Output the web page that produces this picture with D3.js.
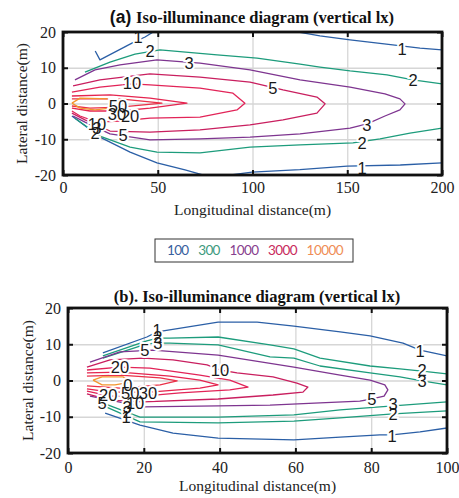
<!DOCTYPE html>
<html>
<head>
<meta charset="utf-8">
<script src="https://cdn.jsdelivr.net/npm/d3@7"></script>
<style>
body { margin: 0; background: #fff; }
</style>
</head>
<body>
<svg id="chart" width="459" height="498"></svg>
<script>
// ---- panel (a): iso-lux lines, longitudinal 0..200 m ----
const levelsA = [1, 2, 3, 5, 10, 20, 30, 50];
const contoursA = [
	{ level: 1, points: [[17, 14.7], [19.5, 12.2], [36.4, 16.9], [43.3, 18.6], [48.5, 20.3], [80, 23], [120.8, 20.3], [135.6, 18.9], [151.5, 17.8], [174, 16.4], [188.4, 15.5], [200, 15.0]] },
	{ level: 1, points: [[4.7, -3.5], [19.5, -9.4], [35.4, -13.6], [49.6, -16.6], [64.4, -18.6], [76, -20.3], [80, -20.6], [84, -20.3], [99.7, -19.2], [125, -18.5], [150, -17.5], [178, -17.2], [200, -16.6]] },
	{ level: 2, points: [[11.6, 8.8], [24.8, 11.6], [38, 13.8], [51.2, 15], [81.3, 13.6], [102.4, 12.7], [125.1, 11], [135.6, 10.2], [151.5, 9.1], [171, 8.0], [184.7, 6.6], [200, 5.5]] },
	{ level: 2, points: [[6.3, -4.1], [19.5, -9.1], [35.4, -12.2], [49.6, -13.6], [72.3, -13.8], [98.7, -12.2], [125.1, -11.6], [153, -11], [167.3, -9.9], [183.1, -8.3], [200, -6.9]] },
	{ level: 3, points: [[6.3, 6.6], [16.9, 9.4], [30.1, 10.8], [49.6, 12.2], [72.3, 11.3], [98.7, 9.4], [125.1, 6.6], [151.5, 4.6], [169.9, 2.7], [177.8, 1.3], [180.5, -0.1], [177.8, -1.8], [169.9, -3.5], [160.5, -5.7], [151.5, -6.9], [125.1, -8.5], [98.7, -9.4], [72.3, -9.9], [45.9, -10.2], [24.8, -8.5], [11.6, -5.2], [5.3, -3.5]] },
	{ level: 5, points: [[5.3, 4.9], [19.5, 6.6], [45.9, 8.3], [72.3, 7.4], [98.7, 6.0], [116.1, 3.8], [134, 1.8], [138.3, -0.1], [134, -2.7], [116.1, -4.6], [98.7, -6.0], [72.3, -7.4], [45.9, -8.0], [24.8, -7.7], [11.6, -4.6], [4.7, -2.7]] },
	{ level: 10, points: [[4.7, 3.2], [19.5, 4.6], [36.4, 5.5], [45.9, 5.2], [72.3, 4.3], [89.7, 2.9], [96, 0.1], [91.8, -1.8], [72.3, -3.8], [45.9, -4.1], [30.1, -4.9], [17.9, -5.2], [9, -3.5], [4.7, -2.1]] },
	{ level: 20, points: [[4.7, 2.1], [24.8, 2.4], [45.9, 1.5], [65.4, 0.1], [45.9, -1.3], [30.1, -2.1], [14.2, -2.1], [4.7, -1.3]] },
	{ level: 30, points: [[4.7, 1.3], [30.1, 1.3], [52.2, 0.1], [30.1, -1.0], [14.2, -1.3], [4.7, -0.7]] },
	{ level: 50, points: [[4.7, 0.1], [9, 1.5], [24.8, 1.3], [32.7, 0.7], [29, -1.0], [16.9, -1.8], [9, -1.3], [4.7, 0.1]] }
];
// [x, y, text]
const labelsA = [
	[39.6, 18.6, "1"], [178.9, 15.2, "1"], [157.8, -18.0, "1"],
	[45.9, 14.7, "2"], [184.7, 6.6, "2"], [157.8, -11.0, "2"],
	[66.5, 11.3, "3"], [160.4, -6.0, "3"],
	[110.8, 4.3, "5"], [31.7, -8.8, "5"],
	[36.4, 5.7, "10"], [17.9, -5.7, "10"],
	[29, -0.7, "50"], [28.5, -2.9, "30"], [35.4, -3.5, "20"],
	[17.9, -6.9, "3"], [16.9, -8.3, "2"]
];
const xTicksA = [0, 50, 100, 150, 200];

// ---- panel (b): iso-lux lines, longitudinal 0..100 m ----
const levelsB = [1, 2, 3, 5, 10, 20, 30, 50, 100];
const contoursB = [
	{ level: 1, points: [[9.2, 7.6], [20.8, 12.0], [23.5, 13.4], [26.4, 13.9], [39.6, 16.1], [49.9, 16.1], [59.6, 15.0], [71.8, 13.4], [79.7, 12.3], [88.4, 10.3], [92.9, 8.4], [96.3, 7.6], [100, 6.8]] },
	{ level: 1, points: [[9.8, -9.0], [19, -12.3], [27.7, -14.5], [39.6, -15.9], [59.6, -16.4], [71.8, -15.6], [82.3, -15.0], [85.5, -15.0], [92.9, -14.2], [100, -13.1]] },
	{ level: 2, points: [[9.2, 6.8], [20.8, 10.9], [23.7, 11.7], [26.9, 11.7], [39.6, 12.0], [53.3, 9.8], [59.6, 8.7], [66.5, 6.2], [79.7, 4.0], [87.6, 3.2], [93.4, 2.6], [100, 1.8]] },
	{ level: 2, points: [[8.4, -6.5], [19, -11.4], [39.6, -11.7], [59.6, -11.2], [71.8, -10.3], [82.3, -9.5], [85.8, -9.2], [100, -8.4]] },
	{ level: 3, points: [[9.2, 6.2], [20.8, 10.1], [23.7, 10.3], [26.9, 10.3], [39.6, 9.8], [53.3, 6.5], [59.6, 6.2], [66.5, 4.0], [79.7, 2.1], [87.6, 1.0], [93.4, -0.1], [100, -1.2]] },
	{ level: 3, points: [[8.4, -5.9], [19, -10.1], [39.6, -10.1], [59.6, -9.5], [71.8, -8.1], [82.3, -7.3], [85.8, -7.0], [100, -5.9]] },
	{ level: 5, points: [[5.8, 5.1], [13.7, 7.9], [22.4, 8.4], [39.6, 7.0], [59.6, 3.7], [71.8, 1.5], [79.7, 0.1], [83.6, -1.2], [84.4, -2.6], [83.4, -4.3], [80.2, -5.1], [77, -5.7], [66.5, -6.2], [53.3, -6.8], [39.6, -7.0], [19.8, -7.3], [11.1, -5.4], [5.8, -4.3]] },
	{ level: 10, points: [[5, 3.7], [11.1, 5.7], [19.8, 6.2], [27.7, 5.7], [36.7, 4.3], [40.1, 2.9], [44.6, 2.1], [54.1, 1.0], [60.4, -0.7], [63.3, -1.8], [62, -3.2], [54.1, -4.0], [39.6, -5.1], [19.8, -5.9], [11.1, -5.4], [5, -3.7]] },
	{ level: 20, points: [[5, 2.9], [13.7, 3.7], [21.6, 3.4], [34.8, 1.5], [42.7, 0.1], [47.5, -1.8], [42.7, -2.6], [29.6, -3.4], [19.8, -4.3], [11.1, -4.3], [5, -2.9]] },
	{ level: 30, points: [[5, 2.1], [13.7, 2.3], [26.9, 1.2], [34.8, 0.1], [39.6, -1.2], [34.8, -2.1], [21.6, -3.2], [11.1, -3.2], [5, -2.3]] },
	{ level: 50, points: [[5, 1.2], [13.7, 1.5], [24.3, 0.7], [28.8, -0.1], [24.3, -1.2], [13.7, -2.1], [5, -1.5]] },
	{ level: 100, points: [[6.6, 0.1], [9, 1.0], [14.5, 1.0], [16.9, -0.4], [12.4, -1.2], [9, -1.2], [6.6, 0.1]] }
];
const labelsB = [
	[23.5, 13.9, "1"], [23.7, 12.0, "2"], [23.7, 10.3, "3"],
	[20.3, 8.4, "5"], [13.7, 3.7, "20"], [40.1, 2.9, "10"],
	[15.8, -1.2, "0"], [10.6, -4.0, "20"], [16.4, -3.4, "50"], [21.1, -3.4, "30"],
	[17.7, -6.2, "10"], [9, -6.2, "5"],
	[15.6, -7.3, "3"], [15.6, -8.7, "2"], [15.3, -10.0, "1"],
	[92.9, 8.1, "1"], [93.4, 2.9, "2"], [93.4, -0.1, "3"],
	[80.2, -5.1, "5"], [85.8, -6.5, "3"], [85.8, -9.2, "2"], [85.5, -15.3, "1"]
];
const xTicksB = [0, 20, 40, 60, 80, 100];

const yTicks = [-20, -10, 0, 10, 20];

// legend
const legendValues = ["100", "300", "1000", "3000", "10000"];

const svg = d3.select("#chart");

const serif = "'Liberation Serif', 'Times New Roman', serif";
const sans = "'Liberation Sans', Arial, sans-serif";

// color per level: MATLAB-ish contour palette
const colorA = d3.scaleOrdinal().domain(levelsA)
	.range(["#2b5fa6", "#1d9c7c", "#7e3590", "#c91f5f", "#e22458", "#e5244f", "#ea3048", "#f4952e"]);
const colorB = d3.scaleOrdinal().domain(levelsB)
	.range(["#2b5fa6", "#1d9c7c", "#1d9c7c", "#7e3590", "#c91f5f", "#e22458", "#e5244f", "#ea3048", "#f4952e"]);
const legendColor = d3.scaleOrdinal().domain(legendValues)
	.range(["#38609e", "#3d9a7e", "#87408e", "#c82a5c", "#ef8d55"]);

function drawPanel(cfg) {
	const x = d3.scaleLinear().domain(cfg.xDomain).range([cfg.left, cfg.right]);
	const y = d3.scaleLinear().domain([-20, 20]).range([cfg.bottom, cfg.top]);
	const h = cfg.bottom - cfg.top;
	const w = cfg.right - cfg.left;
	const g = svg.append("g");

	// grid
	g.append("g")
		.attr("transform", `translate(0,${cfg.bottom})`)
		.call(d3.axisBottom(x).tickValues(cfg.xTicks.slice(1, -1)).tickSize(-h).tickFormat(""))
		.call(s => s.select(".domain").remove())
		.selectAll("line").attr("stroke", "#d6d6d6").attr("stroke-width", 1.3);
	g.append("g")
		.attr("transform", `translate(${cfg.left},0)`)
		.call(d3.axisLeft(y).tickValues(yTicks.slice(1, -1)).tickSize(-w).tickFormat(""))
		.call(s => s.select(".domain").remove())
		.selectAll("line").attr("stroke", "#d6d6d6").attr("stroke-width", 1.3);

	// clip
	svg.append("clipPath").attr("id", "clip" + cfg.id)
		.append("rect").attr("x", cfg.left).attr("y", cfg.top).attr("width", w).attr("height", h);

	const line = d3.line().x(d => x(d[0])).y(d => y(d[1]));
	const cg = g.append("g").attr("clip-path", `url(#clip${cfg.id})`);
	cg.selectAll("path.iso")
		.data(cfg.contours)
		.join("path")
		.attr("class", "iso")
		.attr("d", d => line(d.points))
		.attr("fill", "none")
		.attr("stroke", d => cfg.color(d.level))
		.attr("stroke-width", 1.3)
		.attr("stroke-linejoin", "round");

	// labels: white halo first, then text
	const lab = cg.append("g")
		.attr("font-family", sans)
		.attr("font-size", 16.5)
		.attr("text-anchor", "middle");
	lab.selectAll("text.halo")
		.data(cfg.labels)
		.join("text")
		.attr("class", "halo")
		.attr("x", d => x(d[0]))
		.attr("y", d => y(d[1]))
		.attr("dy", "0.36em")
		.attr("fill", "#fff")
		.attr("stroke", "#fff")
		.attr("stroke-width", 4)
		.text(d => d[2]);
	lab.selectAll("text.lbl")
		.data(cfg.labels)
		.join("text")
		.attr("class", "lbl")
		.attr("x", d => x(d[0]))
		.attr("y", d => y(d[1]))
		.attr("dy", "0.36em")
		.attr("fill", "#1a1a1a")
		.text(d => d[2]);

	// frame
	g.append("rect")
		.attr("x", cfg.left).attr("y", cfg.top)
		.attr("width", w).attr("height", h)
		.attr("fill", "none").attr("stroke", "#111").attr("stroke-width", 2.8);

	// inner ticks on all four sides
	const tick = (axis, tr) => g.append("g").attr("transform", tr)
		.call(axis)
		.call(s => s.select(".domain").remove())
		.selectAll("line").attr("stroke", "#111").attr("stroke-width", 2);
	tick(d3.axisBottom(x).tickValues(cfg.xTicks).tickSize(-5).tickFormat(""), `translate(0,${cfg.bottom})`);
	tick(d3.axisTop(x).tickValues(cfg.xTicks).tickSize(-5).tickFormat(""), `translate(0,${cfg.top})`);
	tick(d3.axisLeft(y).tickValues(yTicks).tickSize(-5).tickFormat(""), `translate(${cfg.left},0)`);
	tick(d3.axisRight(y).tickValues(yTicks).tickSize(-5).tickFormat(""), `translate(${cfg.right},0)`);

	// tick labels (plain hyphen for negatives, like the original)
	g.append("g")
		.attr("transform", `translate(0,${cfg.bottom})`)
		.call(d3.axisBottom(x).tickValues(cfg.xTicks).tickSize(0).tickPadding(cfg.xPad).tickFormat(d => String(d)))
		.call(s => s.select(".domain").remove())
		.selectAll("text").attr("font-family", serif).attr("font-size", 16).attr("fill", "#222");
	g.append("g")
		.attr("transform", `translate(${cfg.left},0)`)
		.call(d3.axisLeft(y).tickValues(yTicks).tickSize(0).tickPadding(7).tickFormat(d => String(d)))
		.call(s => s.select(".domain").remove())
		.selectAll("text").attr("font-family", serif).attr("font-size", 16).attr("fill", "#222");

	// axis titles
	g.append("text")
		.attr("x", (cfg.left + cfg.right) / 2).attr("y", cfg.xLabelY)
		.attr("text-anchor", "middle")
		.attr("font-family", serif).attr("font-size", 15.5).attr("fill", "#222")
		.text("Longitudinal distance(m)");
	g.append("text")
		.attr("transform", `translate(${cfg.yLabelX},${(cfg.top + cfg.bottom) / 2}) rotate(-90)`)
		.attr("text-anchor", "middle")
		.attr("font-family", serif).attr("font-size", 15.5).attr("fill", "#222")
		.text("Lateral distance(m)");

	// title
	const t = g.append("text")
		.attr("x", cfg.titleX).attr("y", cfg.titleY)
		.attr("text-anchor", "middle")
		.attr("font-family", serif).attr("font-weight", "bold").attr("fill", "#111");
	cfg.title.forEach(part => {
		t.append("tspan")
			.attr("font-family", part.sans ? sans : serif)
			.attr("font-size", part.sans ? 17.5 : 16.5)
			.text(part.text);
	});
}

drawPanel({
	id: "a", xDomain: [0, 200], xTicks: xTicksA,
	left: 63, right: 442, top: 32, bottom: 175,
	contours: contoursA, labels: labelsA, color: colorA,
	xPad: 7, xLabelY: 215, yLabelX: 27,
	titleX: 252, titleY: 23,
	title: [{ text: "(a) ", sans: true }, { text: "Iso-illuminance diagram (vertical lx)" }]
});

drawPanel({
	id: "b", xDomain: [0, 100], xTicks: xTicksB,
	left: 68, right: 447, top: 308, bottom: 453,
	contours: contoursB, labels: labelsB, color: colorB,
	xPad: 9, xLabelY: 491, yLabelX: 33,
	titleX: 257, titleY: 302,
	title: [{ text: "(b). Iso-illuminance diagram (vertical lx)" }]
});

// legend box, entries laid out by their text length
const leg = svg.append("g");
leg.append("rect")
	.attr("x", 155).attr("y", 239).attr("width", 198).attr("height", 23)
	.attr("fill", "#fff").attr("stroke", "#333").attr("stroke-width", 1);
const digitW = 7.4, gap = 9;
let cursor = 167;
const legendX = legendValues.map(v => { const at = cursor; cursor += v.length * digitW + gap; return at; });
leg.selectAll("text")
	.data(legendValues)
	.join("text")
	.attr("x", (d, i) => legendX[i])
	.attr("y", 255)
	.attr("textLength", d => d.length * digitW)
	.attr("font-family", "Lato, 'Open Sans', sans-serif")
	.attr("font-size", 13.5)
	.attr("fill", d => legendColor(d))
	.text(d => d);
</script>
</body>
</html>
